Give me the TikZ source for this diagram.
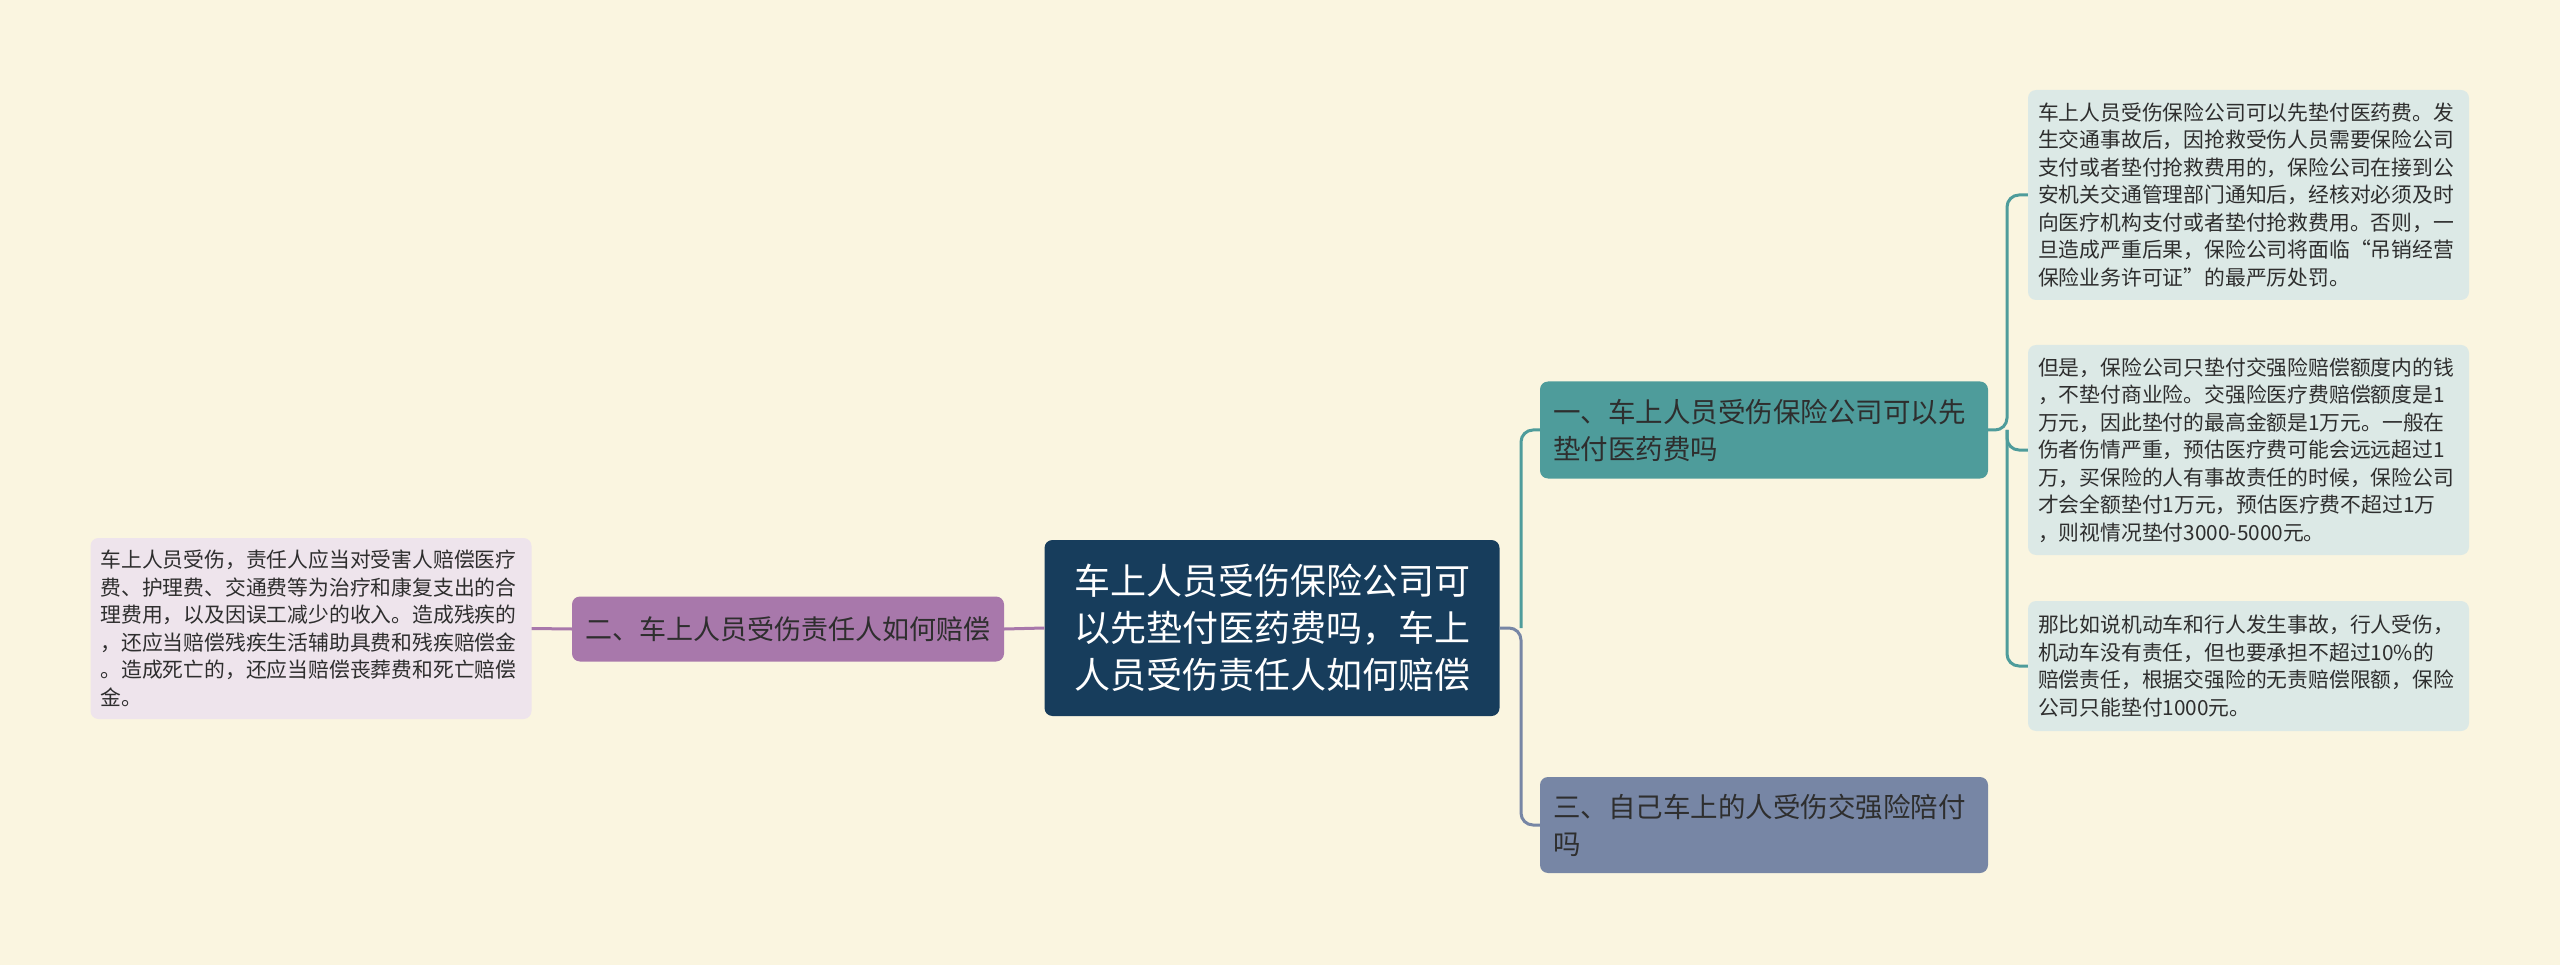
\documentclass[tikz,border=0pt]{standalone}
\usepackage{fontspec}
\setmainfont{Noto Sans CJK SC}
\usetikzlibrary{calc}
\definecolor{bgc}{HTML}{FAF5E0}
\definecolor{rootc}{HTML}{173D5C}
\definecolor{tealc}{HTML}{4E9C9B}
\definecolor{slatec}{HTML}{7786A5}
\definecolor{purpc}{HTML}{A878AB}
\definecolor{leafr}{HTML}{DCE9E6}
\definecolor{leafl}{HTML}{EEE4EC}
\definecolor{txt}{HTML}{2E2E2E}
\tikzset{
  box/.style={rounded corners=8pt, inner sep=0pt, align=left, text=txt},
  rootbox/.style={box, fill=rootc, text=white, align=center, minimum width=455pt, minimum height=176pt, text width=420pt, font=\fontsize{36}{47}\selectfont},
  mainbox/.style={box, minimum width=448pt, text width=422pt, font=\fontsize{27.5}{37}\selectfont},
  leafbox/.style={box, minimum width=441pt, text width=421pt, font=\fontsize{20.8}{27.5}\selectfont},
  link/.style={line width=3pt, rounded corners=12pt}
}
\begin{document}
\begin{tikzpicture}[x=1pt,y=-1pt]
\fill[bgc] (0,0) rectangle (2560,965);
\useasboundingbox (0,0) rectangle (2560,965);
% nodes
\node[rootbox] (root) at (1272,628) {车上人员受伤保险公司可\\以先垫付医药费吗，车上\\人员受伤责任人如何赔偿};
\node[mainbox, fill=tealc, minimum height=97pt] (one) at (1764,430) {一、车上人员受伤保险公司可以先\\垫付医药费吗};
\node[mainbox, fill=slatec, minimum height=96pt] (three) at (1764,825) {三、自己车上的人受伤交强险陪付\\吗};
\node[box, fill=purpc, minimum width=432pt, minimum height=65pt, align=center, font=\fontsize{27}{37}\selectfont] (two) at (788,629) {二、车上人员受伤责任人如何赔偿};
\node[leafbox, fill=leafl, minimum height=181pt] (leafL) at (311,628.5) {车上人员受伤，责任人应当对受害人赔偿医疗\\费、护理费、交通费等为治疗和康复支出的合\\理费用，以及因误工减少的收入。造成残疾的\\，还应当赔偿残疾生活辅助具费和残疾赔偿金\\。造成死亡的，还应当赔偿丧葬费和死亡赔偿\\金。};
\node[leafbox, fill=leafr, minimum height=210pt] (leaf1) at (2248.5,195) {车上人员受伤保险公司可以先垫付医药费。发\\生交通事故后，因抢救受伤人员需要保险公司\\支付或者垫付抢救费用的，保险公司在接到公\\安机关交通管理部门通知后，经核对必须及时\\向医疗机构支付或者垫付抢救费用。否则，一\\旦造成严重后果，保险公司将面临“吊销经营\\保险业务许可证”的最严厉处罚。};
\node[leafbox, fill=leafr, minimum height=210pt] (leaf2) at (2248.5,450) {但是，保险公司只垫付交强险赔偿额度内的钱\\，不垫付商业险。交强险医疗费赔偿额度是1\\万元，因此垫付的最高金额是1万元。一般在\\伤者伤情严重，预估医疗费可能会远远超过1\\万，买保险的人有事故责任的时候，保险公司\\才会全额垫付1万元，预估医疗费不超过1万\\，则视情况垫付3000-5000元。};
\node[leafbox, fill=leafr, minimum height=130pt] (leaf3) at (2248.5,666) {那比如说机动车和行人发生事故，行人受伤，\\机动车没有责任，但也要承担不超过10\%的\\赔偿责任，根据交强险的无责赔偿限额，保险\\公司只能垫付1000元。};
% hubs
\coordinate (hubA) at (1521,628);
\coordinate (hubB) at (2007,430);
% connectors
\draw[link, slatec] (root.east) -- (hubA) |- (three.west);
\draw[link, tealc] (hubA) |- (one.west);
\draw[link, tealc] (one.east) -- (hubB) |- (leaf1.west);
\draw[link, tealc] (hubB) |- (leaf2.west);
\draw[link, tealc] (hubB) |- (leaf3.west);
\draw[link, purpc] (root.west) -- (two.east);
\draw[link, purpc] (two.west) -- (leafL.east);
\end{tikzpicture}
\end{document}
